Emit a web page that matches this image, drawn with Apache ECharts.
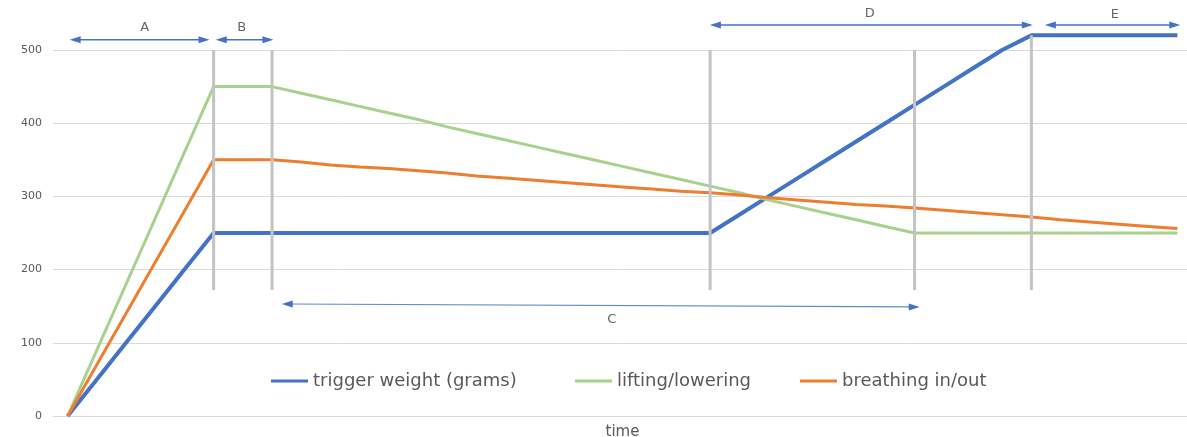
<!DOCTYPE html>
<html>
<head>
<meta charset="utf-8">
<script src="https://cdn.jsdelivr.net/npm/echarts@6/dist/echarts.min.js"></script>
<style>
html,body{margin:0;padding:0;background:#fff;}
#chart{width:1187px;height:437px;}
</style>
</head>
<body>
<div id="chart"></div>
<script>
// time steps (categories, evenly spaced)
const timeSteps = Array.from({length: 39}, (_, i) => i);
const seriesNames = ['trigger weight (grams)', 'lifting/lowering', 'breathing in/out'];
const triggerWeight = [0, 50, 100, 150, 200, 250, 250, 250, 250, 250, 250, 250, 250, 250, 250, 250, 250, 250, 250, 250, 250, 250, 250,
  275, 300, 325, 350, 375, 400, 425, 450, 475, 500, 520, 520, 520, 520, 520, 520];
const liftingLowering = [0, 90, 180, 270, 360, 450, 450, 450, 441, 432, 423, 414, 405, 395, 386, 377, 368, 359, 350, 341, 332, 323, 314,
  305, 295, 286, 277, 268, 259, 250, 250, 250, 250, 250, 250, 250, 250, 250, 250];
const breathing = [0, 70, 140, 210, 280, 350, 350, 350, 347, 343, 340, 338, 335, 332, 328, 325, 322, 319, 316, 313, 310, 307, 305,
  302, 298, 295, 292, 289, 287, 284, 281, 278, 275, 272, 268, 265, 262, 259, 256];
const yTicks = [0, 100, 200, 300, 400, 500];

// phase dividers (time step, top value)
const dividerAt = [5, 7, 22, 29, 33];
const dividerTop = [500, 500, 500, 500, 520];
const dividerBottom = 172;

// phase spans: label, start, end (time units), level (value units)
const spanLabels = ['A', 'B', 'C', 'D', 'E'];
const spanStart = [0.26, 5.26, 7.52, 22.18, 33.65];
const spanEnd = [4.67, 6.86, 28.99, 32.86, 37.91];
const spanLevelStart = [514, 514, 153, 534, 534];
const spanLevelEnd = [514, 514, 149, 534, 534];
const labelX = [2.64, 5.96, 18.63, 27.47, 35.86];
const labelY = [530, 531, 131, 550, 548];

const FONT = 'DejaVu Sans';
const colors = ['#4472C4', '#A9D18E', '#ED7D31'];
const widths = [4, 3, 3];
const legendLeft = [266, 570, 795];

const series = [];
[triggerWeight, liftingLowering, breathing].forEach((arr, k) => {
  series.push({
    name: seriesNames[k], type: 'line', data: arr.map((v, i) => [timeSteps[i], v]),
    showSymbol: false, symbol: 'none', clip: false, z: 3,
    lineStyle: {color: colors[k], width: widths[k]}, itemStyle: {color: colors[k]},
    emphasis: {disabled: true}
  });
});
dividerAt.forEach((x, i) => {
  series.push({
    type: 'line', data: [[x, dividerBottom], [x, dividerTop[i]]], showSymbol: false, symbol: 'none',
    clip: false, z: 4, silent: true, lineStyle: {color: '#C3C3C3', width: 3}, emphasis: {disabled: true}
  });
});
spanLabels.forEach((lab, i) => {
  const thin = lab === 'C';
  series.push({
    type: 'line', clip: false, z: 5, silent: true, showSymbol: true, symbol: 'triangle',
    symbolSize: [7, 11],
    data: [
      {value: [spanStart[i], spanLevelStart[i]], symbolRotate: 90},
      {value: [spanEnd[i], spanLevelEnd[i]], symbolRotate: -90}
    ],
    lineStyle: {color: thin ? '#5B8BD0' : '#4472C4', width: thin ? 1.2 : 1.5},
    itemStyle: {color: '#4472C4'}, emphasis: {disabled: true}
  });
});
series.push({
  type: 'scatter', clip: false, z: 6, silent: true, symbolSize: 0,
  data: spanLabels.map((lab, i) => ({name: lab, value: [labelX[i], labelY[i]]})),
  label: {show: true, position: 'inside', formatter: '{b}', fontFamily: FONT, fontSize: 13, color: '#404040'}
});

const chart = echarts.init(document.getElementById('chart'), null, {renderer: 'canvas'});
chart.setOption({
  animation: false,
  backgroundColor: '#ffffff',
  grid: {left: 53, top: 50, width: 1139, height: 366, containLabel: false, outerBoundsMode: 'none'},
  legend: seriesNames.map((n, k) => ({
    data: [n], left: legendLeft[k], top: 367, icon: 'rect', itemWidth: 37, itemHeight: 3,
    textStyle: {fontFamily: FONT, fontSize: 18, color: '#595959'}, selectedMode: false
  })),
  xAxis: {
    type: 'value', min: -0.5, max: 38.5, name: 'time', nameLocation: 'middle', nameGap: 9,
    nameTextStyle: {fontFamily: FONT, fontSize: 15, color: '#595959'},
    axisLine: {show: true, lineStyle: {color: '#D9D9D9', width: 1}}, axisTick: {show: false},
    axisLabel: {show: false}, splitLine: {show: false}
  },
  yAxis: {
    type: 'value', min: yTicks[0], max: yTicks[yTicks.length - 1], interval: 100,
    axisLine: {show: false}, axisTick: {show: false},
    axisLabel: {fontFamily: FONT, fontSize: 11, color: '#595959', margin: 11},
    splitLine: {lineStyle: {color: '#D9D9D9', width: 1}}
  },
  series: series
});
</script>
</body>
</html>
